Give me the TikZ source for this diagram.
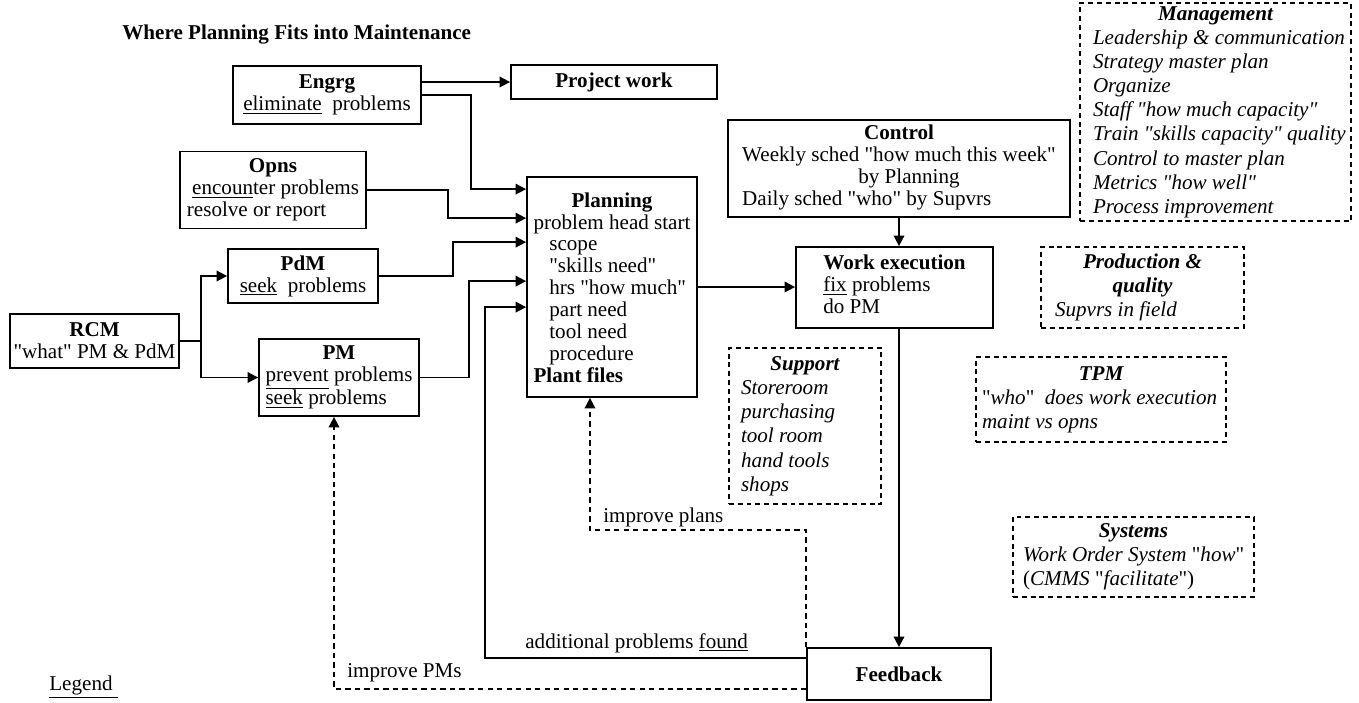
\documentclass[tikz,border=0pt]{standalone}
\usepackage{fontspec}
\setmainfont{Liberation Serif}[Ligatures=TeXOff]
\usepackage{tikz}
\usetikzlibrary{arrows.meta}
\newcommand{\ctr}[1]{\multicolumn{1}{@{}c@{}}{#1}}

\begin{document}
\fontsize{12}{12.5}\selectfont
\begin{tikzpicture}[
    box/.style={
        draw, line width=1pt, inner sep=0pt, align=center
    },
    dbox/.style={
        draw, line width=0.8pt, dash pattern=on 2.8pt off 2.2pt,
        inner sep=0pt, font=\itshape
    },
    arr/.style={-{Triangle[length=6pt,width=6pt]}, line width=1pt},
    darr/.style={arr, dash pattern=on 3pt off 2.4pt},
    note/.style={anchor=west, inner sep=0pt}
]
    \useasboundingbox (0,0) rectangle (27.18,-14.06);

    % Title
    \node[note] (title) at (2.44,-0.70)
        {\textbf{Where Planning Fits into Maintenance}};

    % Sources of work
    \node[box, minimum width=3.76cm, minimum height=1.16cm] (engrg) at (6.54,-1.90)
        {\textbf{Engrg}\\\underline{eliminate}\ \ problems};
    \node[box, minimum width=4.12cm, minimum height=0.68cm] (proj) at (12.28,-1.64)
        {\textbf{Project work}};
    \node[box, minimum width=3.72cm, minimum height=1.54cm] (opns) at (5.46,-3.80)
        {\begin{tabular}{@{}l@{}}\ctr{\textbf{Opns}}\\
         \ \underline{encoun}ter problems\\ resolve or report\end{tabular}};
    \node[box, minimum width=3.0cm, minimum height=1.08cm] (pdm) at (6.06,-5.52)
        {\textbf{PdM}\\\underline{seek}\ \ problems};
    \node[box, minimum width=3.38cm, minimum height=1.08cm] (rcm) at (1.89,-6.82)
        {\textbf{RCM}\\"what" PM \& PdM};
    \node[box, minimum width=3.2cm, minimum height=1.54cm] (pm) at (6.78,-7.55)
        {\begin{tabular}{@{}l@{}}\ctr{\textbf{PM}}\\
         \underline{prevent} problems\\ \underline{seek} problems\end{tabular}};

    % Planning
    \node[box, minimum width=3.4cm, minimum height=4.4cm] (plan) at (12.24,-5.74)
        {\begin{tabular}{@{}l@{}}\ctr{\textbf{Planning}}\\
         problem head start\\
         \hspace{9pt}scope\\
         \hspace{9pt}"skills need"\\
         \hspace{9pt}hrs "how much"\\
         \hspace{9pt}part need\\
         \hspace{9pt}tool need\\
         \hspace{9pt}procedure\\
         \textbf{Plant files}\\[-4pt]\end{tabular}};

    % Control, execution, feedback
    \node[box, minimum width=6.84cm, minimum height=1.94cm] (ctrl) at (17.98,-3.37)
        {\begin{tabular}{@{}l@{}}\ctr{\textbf{Control}}\\
         Weekly sched "how much this week"\\
         \ctr{\hspace{0.4cm}by Planning}\\
         Daily sched "who" by Supvrs\end{tabular}};
    \node[box, minimum width=3.94cm, minimum height=1.62cm] (work) at (17.89,-5.75)
        {\begin{tabular}{@{}l@{}}\ctr{\textbf{Work execution}}\\
         \underline{fix} problems\\ do PM\end{tabular}};
    \node[box, minimum width=3.68cm, minimum height=1.04cm] (fb) at (17.98,-13.48)
        {\textbf{Feedback}};

    % Supporting functions
    \node[dbox, minimum width=3.04cm, minimum height=3.12cm] (support) at (16.10,-8.52)
        {\renewcommand{\arraystretch}{1.1}%
         \begin{tabular}{@{\hspace{0.24cm}}p{2.8cm}@{}}\ctr{\textbf{Support}}\\
         Storeroom\\ purchasing\\ tool room\\ hand tools\\ shops\end{tabular}};
    \node[dbox, minimum width=5.42cm, minimum height=4.36cm] (mgmt) at (24.31,-2.24)
        {\renewcommand{\arraystretch}{1.1}%
         \begin{tabular}{@{\hspace{0.26cm}}p{5.16cm}@{}}\ctr{\textbf{Management}}\\
         Leadership \& communication\\
         Strategy master plan\\
         Organize\\
         Staff "how much capacity"\\
         Train "skills capacity" quality\\
         Control to master plan\\
         Metrics "how well"\\
         Process improvement\end{tabular}};
    \node[dbox, minimum width=4.06cm, minimum height=1.62cm] (prod) at (22.85,-5.75)
        {\renewcommand{\arraystretch}{1.1}%
         \begin{tabular}{@{\hspace{0.28cm}}p{3.78cm}@{}}\ctr{\textbf{Production \&}}\\
         \ctr{\textbf{quality}}\\ Supvrs in field\end{tabular}};
    \node[dbox, minimum width=5.0cm, minimum height=1.70cm] (tpm) at (22.02,-7.99)
        {\renewcommand{\arraystretch}{1.1}%
         \begin{tabular}{@{\hspace{0.12cm}}p{4.88cm}@{}}\ctr{\textbf{TPM}}\\
         \textup{"}who\textup{"}\ \ does work execution\\ maint vs opns\end{tabular}};
    \node[dbox, minimum width=4.82cm, minimum height=1.60cm] (sys) at (22.67,-11.14)
        {\renewcommand{\arraystretch}{1.1}%
         \begin{tabular}{@{\hspace{0.2cm}}p{4.62cm}@{}}\ctr{\textbf{Systems}}\\
         Work Order System \textup{"}how\textup{"}\\
         \textup{(}CMMS \textup{"}facilitate\textup{")}\end{tabular}};

    % Flow into planning
    \draw[arr] (engrg.east |- proj.west) -- (proj.west);
    \draw[arr] (engrg.east) -- ++(0.98,0) |- ([yshift=-0.26cm]plan.north west);
    \draw[arr] (opns.east) -- ++(1.62,0) |- ([yshift=-0.84cm]plan.north west);
    \draw[arr] (pdm.east) -- ++(1.48,0) |- ([yshift=-1.32cm]plan.north west);
    \draw[arr] (pm.east) -- ++(0.98,0) |- ([yshift=-2.10cm]plan.north west);
    \draw[arr] (rcm.east) -- ++(0.42,0) |- (pdm.west);
    \draw[arr] (rcm.east) -- ++(0.42,0) |- (pm.west);

    % Planning to execution
    \draw[arr] (plan.east) -- (plan.east -| work.west);
    \draw[arr] (ctrl.south) -- (ctrl.south |- work.north);
    \draw[arr] (fb.north |- work.south) -- (fb.north);

    % Feedback loops
    \draw[arr] ([yshift=-0.22cm]fb.north west) -- ++(-6.42,0)
        |- ([yshift=-2.62cm]plan.north west);
    \draw[darr] (fb.north west) -- ++(0,2.34) -| ([xshift=-0.44cm]plan.south);
    \draw[darr] ([yshift=0.24cm]fb.south west) -| ([xshift=-0.1cm]pm.south);

    \node[note] (found) at (10.50,-12.86) {additional problems \underline{found}};
    \node[note] (plans) at (12.06,-10.34) {improve plans};
    \node[note] (pms) at (6.94,-13.46) {improve PMs};

    % Legend
    \node[note] (legend) at (0.98,-13.74) {\underline{Legend\ }};
\end{tikzpicture}
\end{document}
